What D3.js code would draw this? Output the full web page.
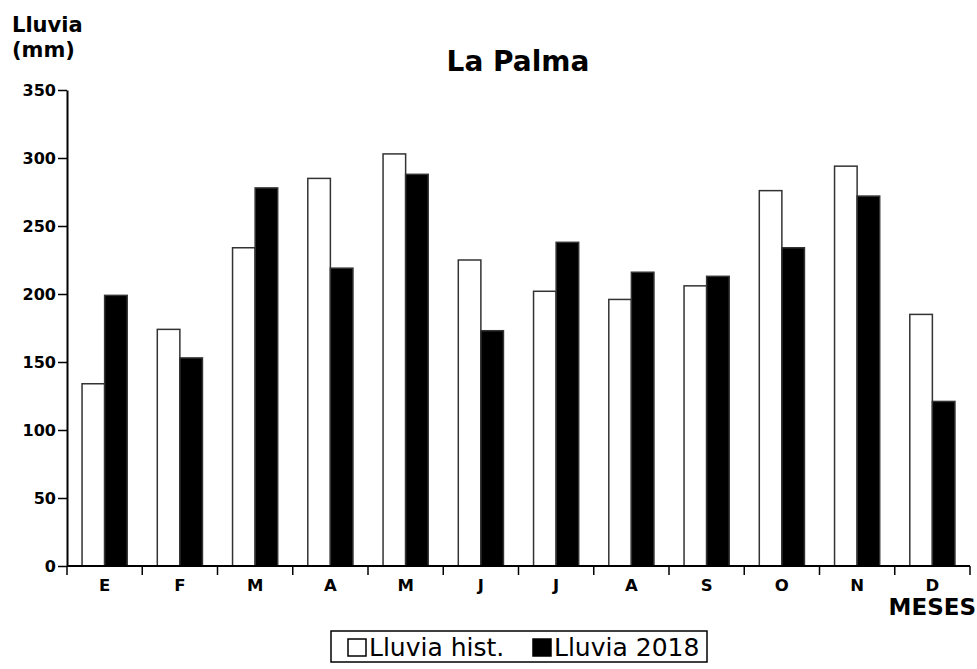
<!DOCTYPE html>
<html><head><meta charset="utf-8">
<script src="https://cdn.jsdelivr.net/npm/d3@7"></script>
<style>body{margin:0;background:#fff}svg{display:block}</style>
</head><body>
<svg id="c" width="977" height="669"></svg>
<script>
const months = ["E","F","M","A","M","J","J","A","S","O","N","D"];
const seriesNames = ["Lluvia hist.","Lluvia 2018"];
const hist = [134,174,234,285,303,225,202,196,206,276,294,185];
const y2018 = [199,153,278,219,288,173,238,216,213,234,272,121];
const yTicks = [0,50,100,150,200,250,300,350];

const svg = d3.select("#c");
const F = "'DejaVu Sans', Verdana, sans-serif";
const L = 67, R = 970, T = 90, B = 566;

const idx = months.map((m,i)=>i);
const x = d3.scaleBand().domain(idx).range([L,R]).paddingInner(0.4).paddingOuter(0.2);
const xs = d3.scaleBand().domain([0,1]).range([0,x.bandwidth()]);
const y = d3.scaleLinear().domain([0,350]).range([B,T]);
const step = x.step();

// bars
const data = idx.map(i=>({i, v:[hist[i], y2018[i]]}));
const g = svg.append("g");
data.forEach(d=>{
  [0,1].forEach(s=>{
    g.append("rect")
      .attr("x", x(d.i)+xs(s))
      .attr("y", y(d.v[s]))
      .attr("width", xs.bandwidth())
      .attr("height", y(0)-y(d.v[s]))
      .attr("fill", s===0 ? "#fff" : "#000")
      .attr("stroke", "#333").attr("stroke-width", 1.5);
  });
});

// y axis
const ya = svg.append("g").attr("transform",`translate(${L},0)`)
  .call(d3.axisLeft(y).tickValues(yTicks).tickSize(9).tickPadding(2).tickSizeOuter(0));
ya.select(".domain").attr("stroke","#000").attr("stroke-width",2);
ya.selectAll(".tick line").attr("stroke","#000").attr("stroke-width",1.5);
ya.selectAll(".tick text").attr("font-family",F).attr("font-weight","bold").attr("font-size",16).attr("fill","#000");

// x axis: ticks at band boundaries
const bounds = d3.range(13).map(k=>L+k*step);
const xa = svg.append("g");
xa.append("line").attr("x1",L).attr("x2",R).attr("y1",B).attr("y2",B).attr("stroke","#000").attr("stroke-width",2);
bounds.forEach(bx=>{
  xa.append("line").attr("x1",bx).attr("x2",bx).attr("y1",B).attr("y2",B+9).attr("stroke","#000").attr("stroke-width",1.5);
});
idx.forEach(i=>{
  xa.append("text").attr("x", x(i)+x.bandwidth()/2).attr("y", 591)
    .attr("text-anchor","middle").attr("font-family",F).attr("font-weight","bold").attr("font-size",16.5)
    .text(months[i]);
});

// titles
svg.append("text").attr("x",518).attr("y",71).attr("text-anchor","middle")
  .attr("font-family",F).attr("font-weight","bold").attr("font-size",28).text("La Palma");
svg.append("text").attr("x",12).attr("y",32).attr("font-family",F).attr("font-weight","bold").attr("font-size",21).text("Lluvia");
svg.append("text").attr("x",12).attr("y",57).attr("font-family",F).attr("font-weight","bold").attr("font-size",21).text("(mm)");
svg.append("text").attr("x",976).attr("y",615).attr("text-anchor","end")
  .attr("font-family",F).attr("font-weight","bold").attr("font-size",23).text("MESES");

// legend
const lg = svg.append("g");
lg.append("rect").attr("x",331).attr("y",631).attr("width",376).attr("height",31)
  .attr("fill","#fff").attr("stroke","#000").attr("stroke-width",1.5);
const legX = [348, 533];
seriesNames.forEach((n,s)=>{
  lg.append("rect").attr("x",legX[s]).attr("y",639).attr("width",18).attr("height",17)
    .attr("fill", s===0?"#fff":"#000").attr("stroke","#000").attr("stroke-width",1.5);
  lg.append("text").attr("x",legX[s]+21).attr("y",656).attr("font-family",F).attr("font-size",25).text(n);
});
</script>
</body></html>
